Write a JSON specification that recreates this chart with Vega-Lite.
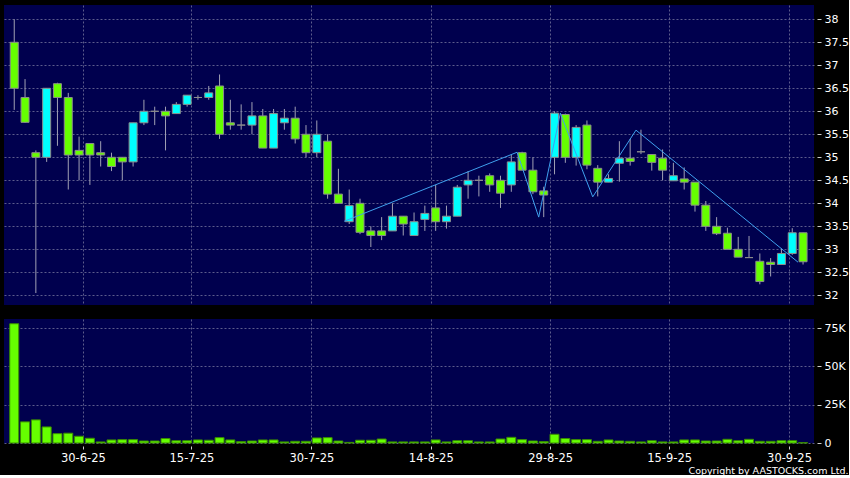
{
  "$schema": "https://vega.github.io/schema/vega-lite/v6.json",
  "background": "#000000",
  "padding": {"left": 4, "top": 5, "right": 0, "bottom": 0},
  "config": {
    "view": {"fill": "#00004e", "stroke": null},
    "font": "DejaVu Sans",
    "axis": {
      "labelFont": "DejaVu Sans",
      "labelColor": "#ffffff",
      "tickColor": "#cccccc",
      "gridColor": "#5c5c8c",
      "gridDash": [2, 2],
      "gridWidth": 1,
      "domain": false,
      "title": null,
      "labelOverlap": false
    }
  },
  "title": {
    "text": "Copyright by AASTOCKS.com Ltd.",
    "orient": "bottom",
    "anchor": "end",
    "color": "#ffffff",
    "font": "DejaVu Sans",
    "fontSize": 9.5,
    "fontWeight": "normal",
    "offset": 2
  },
  "datasets": {
    "candles": [
      {"i": 0, "o": 37.5, "h": 38.0, "l": 36.03, "c": 36.5, "v": 77900},
      {"i": 1, "o": 36.3, "h": 36.7, "l": 35.75, "c": 35.76, "v": 13800},
      {"i": 2, "o": 35.1, "h": 35.15, "l": 32.05, "c": 35.0, "v": 15100},
      {"i": 3, "o": 35.0, "h": 36.5, "l": 34.9, "c": 36.5, "v": 10500},
      {"i": 4, "o": 36.6, "h": 36.62, "l": 35.25, "c": 36.3, "v": 6100},
      {"i": 5, "o": 36.3, "h": 36.4, "l": 34.3, "c": 35.05, "v": 6400},
      {"i": 6, "o": 35.15, "h": 35.45, "l": 34.5, "c": 35.05, "v": 4400},
      {"i": 7, "o": 35.3, "h": 35.3, "l": 34.4, "c": 35.05, "v": 3100},
      {"i": 8, "o": 35.1, "h": 35.35, "l": 34.8, "c": 35.05, "v": 700},
      {"i": 9, "o": 35.0, "h": 35.1, "l": 34.7, "c": 34.8, "v": 2000},
      {"i": 10, "o": 35.0, "h": 35.0, "l": 34.5, "c": 34.9, "v": 2200},
      {"i": 11, "o": 34.9, "h": 35.75, "l": 34.8, "c": 35.75, "v": 2200},
      {"i": 12, "o": 35.75, "h": 36.25, "l": 35.7, "c": 36.0, "v": 1300},
      {"i": 13, "o": 36.0, "h": 36.1, "l": 35.7, "c": 36.0, "v": 1300},
      {"i": 14, "o": 36.0, "h": 36.1, "l": 35.15, "c": 35.9, "v": 2900},
      {"i": 15, "o": 35.95, "h": 36.2, "l": 35.95, "c": 36.15, "v": 1500},
      {"i": 16, "o": 36.15, "h": 36.35, "l": 36.1, "c": 36.35, "v": 1500},
      {"i": 17, "o": 36.3, "h": 36.35, "l": 36.25, "c": 36.3, "v": 2000},
      {"i": 18, "o": 36.3, "h": 36.55, "l": 36.25, "c": 36.4, "v": 1800},
      {"i": 19, "o": 36.55, "h": 36.8, "l": 35.4, "c": 35.5, "v": 3500},
      {"i": 20, "o": 35.75, "h": 36.25, "l": 35.6, "c": 35.7, "v": 2000},
      {"i": 21, "o": 35.7, "h": 36.15, "l": 35.6, "c": 35.7, "v": 900},
      {"i": 22, "o": 35.7, "h": 36.2, "l": 35.5, "c": 35.9, "v": 1300},
      {"i": 23, "o": 35.9, "h": 36.05, "l": 35.2, "c": 35.2, "v": 2000},
      {"i": 24, "o": 35.2, "h": 36.05, "l": 35.2, "c": 35.95, "v": 2000},
      {"i": 25, "o": 35.75, "h": 36.05, "l": 35.6, "c": 35.85, "v": 700},
      {"i": 26, "o": 35.85, "h": 36.1, "l": 35.3, "c": 35.4, "v": 1100},
      {"i": 27, "o": 35.5, "h": 35.7, "l": 35.0, "c": 35.1, "v": 1100},
      {"i": 28, "o": 35.1, "h": 35.8, "l": 35.0, "c": 35.5, "v": 3300},
      {"i": 29, "o": 35.35, "h": 35.5, "l": 34.1, "c": 34.2, "v": 3500},
      {"i": 30, "o": 34.2, "h": 34.75, "l": 34.0, "c": 34.0, "v": 1300},
      {"i": 31, "o": 33.6, "h": 34.3, "l": 33.55, "c": 33.95, "v": 400},
      {"i": 32, "o": 34.0, "h": 34.1, "l": 33.33, "c": 33.37, "v": 1800},
      {"i": 33, "o": 33.4, "h": 33.5, "l": 33.05, "c": 33.3, "v": 1800},
      {"i": 34, "o": 33.4, "h": 33.7, "l": 33.2, "c": 33.3, "v": 2600},
      {"i": 35, "o": 33.4, "h": 34.0, "l": 33.4, "c": 33.72, "v": 700},
      {"i": 36, "o": 33.72, "h": 33.72, "l": 33.3, "c": 33.55, "v": 700},
      {"i": 37, "o": 33.3, "h": 33.8, "l": 33.3, "c": 33.6, "v": 700},
      {"i": 38, "o": 33.65, "h": 33.95, "l": 33.4, "c": 33.78, "v": 700},
      {"i": 39, "o": 33.9, "h": 34.4, "l": 33.4, "c": 33.6, "v": 2000},
      {"i": 40, "o": 33.6, "h": 33.95, "l": 33.45, "c": 33.72, "v": 700},
      {"i": 41, "o": 33.72, "h": 34.4, "l": 33.72, "c": 34.35, "v": 1500},
      {"i": 42, "o": 34.4, "h": 34.7, "l": 34.1, "c": 34.5, "v": 1500},
      {"i": 43, "o": 34.5, "h": 34.6, "l": 34.15, "c": 34.5, "v": 700},
      {"i": 44, "o": 34.6, "h": 34.65, "l": 34.25, "c": 34.4, "v": 700},
      {"i": 45, "o": 34.5, "h": 34.6, "l": 33.9, "c": 34.22, "v": 2600},
      {"i": 46, "o": 34.4, "h": 35.05, "l": 34.25, "c": 34.9, "v": 3700},
      {"i": 47, "o": 35.1, "h": 35.12, "l": 34.72, "c": 34.72, "v": 2200},
      {"i": 48, "o": 34.72, "h": 35.0, "l": 34.2, "c": 34.25, "v": 1300},
      {"i": 49, "o": 34.27, "h": 34.36, "l": 33.7, "c": 34.18, "v": 900},
      {"i": 50, "o": 35.0, "h": 36.0, "l": 34.63, "c": 35.96, "v": 5700},
      {"i": 51, "o": 35.93, "h": 35.95, "l": 34.88, "c": 35.0, "v": 2900},
      {"i": 52, "o": 35.0, "h": 35.7, "l": 34.82, "c": 35.65, "v": 2200},
      {"i": 53, "o": 35.7, "h": 35.8, "l": 34.74, "c": 34.83, "v": 2200},
      {"i": 54, "o": 34.76, "h": 34.83, "l": 34.15, "c": 34.46, "v": 1100},
      {"i": 55, "o": 34.46, "h": 34.63, "l": 34.46, "c": 34.54, "v": 2000},
      {"i": 56, "o": 34.87, "h": 35.35, "l": 34.47, "c": 34.98, "v": 1300},
      {"i": 57, "o": 34.98, "h": 35.4, "l": 34.82, "c": 34.91, "v": 1100},
      {"i": 58, "o": 35.12, "h": 35.6, "l": 35.07, "c": 35.12, "v": 700},
      {"i": 59, "o": 35.06, "h": 35.06, "l": 34.71, "c": 34.89, "v": 1500},
      {"i": 60, "o": 34.98, "h": 35.17, "l": 34.5, "c": 34.72, "v": 700},
      {"i": 61, "o": 34.49, "h": 34.88, "l": 34.49, "c": 34.6, "v": 700},
      {"i": 62, "o": 34.53, "h": 34.78, "l": 34.3, "c": 34.46, "v": 2000},
      {"i": 63, "o": 34.46, "h": 34.46, "l": 33.82, "c": 33.96, "v": 2000},
      {"i": 64, "o": 33.96, "h": 34.05, "l": 33.4, "c": 33.5, "v": 1300},
      {"i": 65, "o": 33.5, "h": 33.7, "l": 33.31, "c": 33.34, "v": 1300},
      {"i": 66, "o": 33.35, "h": 33.47, "l": 33.0, "c": 33.0, "v": 2400},
      {"i": 67, "o": 33.0, "h": 33.27, "l": 32.83, "c": 32.83, "v": 1500},
      {"i": 68, "o": 32.82, "h": 33.29, "l": 32.82, "c": 32.82, "v": 2400},
      {"i": 69, "o": 32.74, "h": 32.91, "l": 32.24, "c": 32.3, "v": 1100},
      {"i": 70, "o": 32.72, "h": 32.81, "l": 32.41, "c": 32.67, "v": 1100},
      {"i": 71, "o": 32.67, "h": 33.02, "l": 32.67, "c": 32.91, "v": 1500},
      {"i": 72, "o": 32.91, "h": 33.46, "l": 32.88, "c": 33.36, "v": 1500},
      {"i": 73, "o": 33.36, "h": 33.36, "l": 32.67, "c": 32.73, "v": 200}
    ],
    "zigzag": [
      {"i": 31, "p": 33.61},
      {"i": 47, "p": 35.11},
      {"i": 49, "p": 33.7},
      {"i": 51, "p": 35.96},
      {"i": 54, "p": 34.14},
      {"i": 58, "p": 35.59},
      {"i": 73, "p": 32.72}
    ]
  },
  "spacing": 14,
  "vconcat": [
    {
      "width": 810,
      "height": 300,
      "layer": [
        {
          "data": {"name": "candles"},
          "mark": {"type": "rule", "color": "#a0a0b4", "strokeWidth": 1},
          "encoding": {
            "x": {
              "field": "i", "type": "quantitative",
              "scale": {"domain": [-0.485, 73.55], "nice": false, "zero": false},
              "axis": {
                "orient": "bottom",
                "values": [6.35, 16.4, 27.5, 38.55, 49.6, 60.6, 71.7],
                "labels": false, "ticks": false, "grid": true
              }
            },
            "y": {
              "field": "l", "type": "quantitative",
              "scale": {"domain": [31.79, 38.31], "nice": false, "zero": false},
              "axis": {
                "orient": "right",
                "values": [32, 32.5, 33, 33.5, 34, 34.5, 35, 35.5, 36, 36.5, 37, 37.5, 38],
                "labelExpr": "datum.value % 1 == 0 ? format(datum.value, 'd') : format(datum.value, '.1f')",
                "labelOverlap": false,
                "grid": true,
                "offset": 3,
                "tickSize": 4,
                "labelPadding": 3,
                "labelFontSize": 11
              }
            },
            "y2": {"field": "h"}
          }
        },
        {
          "data": {"name": "candles"},
          "mark": {"type": "bar", "size": 8, "stroke": "#8c8c8c", "strokeWidth": 1},
          "encoding": {
            "x": {
              "field": "i", "type": "quantitative",
              "axis": {
                "orient": "bottom",
                "values": [6.35, 16.4, 27.5, 38.55, 49.6, 60.6, 71.7],
                "labels": false, "ticks": false, "grid": true
              }
            },
            "y": {
              "field": "o", "type": "quantitative",
              "axis": {
                "orient": "right",
                "values": [32, 32.5, 33, 33.5, 34, 34.5, 35, 35.5, 36, 36.5, 37, 37.5, 38],
                "labelExpr": "datum.value % 1 == 0 ? format(datum.value, 'd') : format(datum.value, '.1f')",
                "labelOverlap": false,
                "grid": true,
                "offset": 3,
                "tickSize": 4,
                "labelPadding": 3,
                "labelFontSize": 11
              }
            },
            "y2": {"field": "c"},
            "fill": {"condition": {"test": "datum.c > datum.o", "value": "#00ffff"}, "value": "#66ff00"}
          }
        },
        {
          "data": {"name": "zigzag"},
          "mark": {"type": "line", "color": "#3fa0ee", "strokeWidth": 1, "xOffset": -5},
          "encoding": {
            "x": {
              "field": "i", "type": "quantitative",
              "axis": {
                "orient": "bottom",
                "values": [6.35, 16.4, 27.5, 38.55, 49.6, 60.6, 71.7],
                "labels": false, "ticks": false, "grid": true
              }
            },
            "y": {
              "field": "p", "type": "quantitative",
              "axis": {
                "orient": "right",
                "values": [32, 32.5, 33, 33.5, 34, 34.5, 35, 35.5, 36, 36.5, 37, 37.5, 38],
                "labelExpr": "datum.value % 1 == 0 ? format(datum.value, 'd') : format(datum.value, '.1f')",
                "labelOverlap": false,
                "grid": true,
                "offset": 3,
                "tickSize": 4,
                "labelPadding": 3,
                "labelFontSize": 11
              }
            }
          }
        }
      ]
    },
    {
      "width": 810,
      "height": 124,
      "data": {"name": "candles"},
      "mark": {"type": "bar", "size": 9, "fill": "#66ff00", "stroke": "#3a8c00", "strokeWidth": 1},
      "encoding": {
        "x": {
          "field": "i", "type": "quantitative",
          "scale": {"domain": [-0.485, 73.55], "nice": false, "zero": false},
          "axis": {
            "orient": "bottom",
            "values": [6.35, 16.4, 27.5, 38.55, 49.6, 60.6, 71.7],
            "labelExpr": "datum.value<10?'30-6-25':datum.value<20?'15-7-25':datum.value<30?'30-7-25':datum.value<40?'14-8-25':datum.value<55?'29-8-25':datum.value<65?'15-9-25':'30-9-25'",
            "grid": true,
            "offset": 3,
            "tickSize": 3,
            "labelPadding": 3,
            "labelFontSize": 11.5
          }
        },
        "y": {
          "field": "v", "type": "quantitative",
          "scale": {"domain": [0, 81000], "nice": false},
          "axis": {
            "orient": "right",
            "values": [0, 25000, 50000, 75000],
            "labelExpr": "datum.value==0?'0':(datum.value/1000)+'K'",
            "grid": true,
            "offset": 3,
            "tickSize": 4,
            "labelPadding": 3,
            "labelFontSize": 11
          }
        }
      }
    }
  ]
}
